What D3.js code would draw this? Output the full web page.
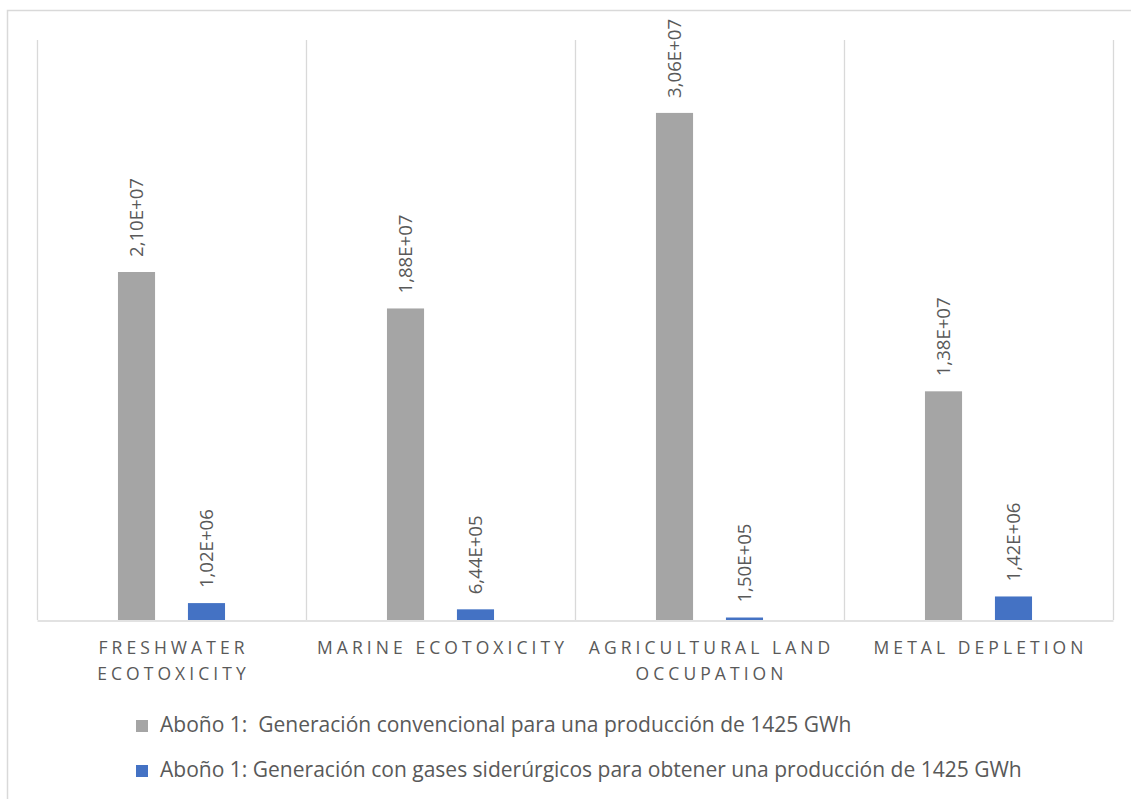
<!DOCTYPE html>
<html>
<head>
<meta charset="utf-8">
<script src="https://cdn.jsdelivr.net/npm/d3@7"></script>
<style>
  html, body { margin: 0; padding: 0; background: #fff; }
  svg { display: block; }
</style>
</head>
<body>
<svg id="chart" width="1131" height="799"></svg>
<script>
// ---- data ----
const categories = ["FRESHWATER ECOTOXICITY", "MARINE ECOTOXICITY", "AGRICULTURAL LAND OCCUPATION", "METAL DEPLETION"];
const seriesNames = [
  "Aboño 1:  Generación convencional para una producción de 1425 GWh",
  "Aboño 1: Generación con gases siderúrgicos para obtener una producción de 1425 GWh"
];
const conventional = [2.10e7, 1.88e7, 3.06e7, 1.38e7];
const siderurgicos = [1.02e6, 6.44e5, 1.50e5, 1.42e6];
const valueLabelsConventional = ["2,10E+07", "1,88E+07", "3,06E+07", "1,38E+07"];
const valueLabelsSiderurgicos = ["1,02E+06", "6,44E+05", "1,50E+05", "1,42E+06"];
const yDomain = [0, 3.5e7];

// ---- styles ----
const colors = ["#A5A5A5", "#4472C4"];
const textColor = "#595959";
const gridColor = "#D9D9D9";
const font = "'Open Sans', 'Noto Sans', sans-serif";

const svg = d3.select("#chart");
const plot = { left: 37, right: 1113, top: 40, bottom: 620 };

// text measuring helper
const measurer = svg.append("text").attr("font-family", font).attr("visibility", "hidden")
  .attr("xml:space", "preserve").style("white-space", "pre");
function measure(t, size, spacing) {
  measurer.attr("font-size", size).attr("letter-spacing", spacing || 0).text(t);
  return measurer.node().getComputedTextLength();
}

// outer chart border (clipped on right / bottom like the reference)
svg.append("rect")
  .attr("x", 7.5).attr("y", 10.5)
  .attr("width", 1300).attr("height", 1000)
  .attr("fill", "none").attr("stroke", gridColor).attr("stroke-width", 1.5);

const x = d3.scaleBand().domain(categories).range([plot.left, plot.right]).padding(0);
const bw = x.bandwidth();
const xs = d3.scaleBand().domain([0, 1]).range([bw * 0.301, bw * 0.699]).paddingInner(0.47).paddingOuter(0);
const y = d3.scaleLinear().domain(yDomain).range([plot.bottom, plot.top]);

// vertical gridlines at category boundaries
const bounds = categories.map(c => x(c)).concat([x(categories[categories.length - 1]) + bw]);
svg.append("g").selectAll("line").data(bounds).join("line")
  .attr("x1", d => d + 0.5).attr("x2", d => d + 0.5)
  .attr("y1", y(yDomain[1])).attr("y2", y(0))
  .attr("stroke", gridColor).attr("stroke-width", 1.3);

// baseline axis
const xAxis = d3.axisBottom(x).tickSize(0).tickFormat("");
const axG = svg.append("g").attr("transform", `translate(0,${y(0) + 0.5})`).call(xAxis);
axG.select(".domain").attr("stroke", gridColor).attr("stroke-width", 1.5);

// data label font size: "3,06E+07" about 80px long
const dlSize = 17 * 79 / measure("3,06E+07", 17, 0);

// bars
const series = [
  { vals: conventional, labels: valueLabelsConventional },
  { vals: siderurgicos, labels: valueLabelsSiderurgicos }
];
series.forEach((s, si) => {
  const g = svg.append("g");
  g.selectAll("rect").data(categories).join("rect")
    .attr("x", (c) => x(c) + xs(si))
    .attr("width", xs.bandwidth())
    .attr("y", (c, i) => y(s.vals[i]))
    .attr("height", (c, i) => y(0) - y(s.vals[i]))
    .attr("fill", colors[si]);
  g.selectAll("text").data(categories).join("text")
    .attr("transform", (c, i) => {
      const cx = x(c) + xs(si) + xs.bandwidth() / 2;
      const ty = y(s.vals[i]) - 15;
      return `translate(${cx},${ty}) rotate(-90)`;
    })
    .attr("dy", "0.36em")
    .attr("text-anchor", "start")
    .attr("font-family", font)
    .attr("font-size", dlSize)
    .attr("fill", textColor)
    .text((c, i) => s.labels[i]);
});

// category labels with wrapping; letter-spacing fit so "MARINE ECOTOXICITY" ~247px
const catFont = 17.5;
const sample = categories[1];
const natural = measure(sample, catFont, 0);
const ls = (247 - natural) / (sample.length - 1);
const maxW = bw - 12;
categories.forEach(c => {
  const words = c.split(" ");
  const lines = [];
  let cur = "";
  words.forEach(w => {
    const test = cur ? cur + " " + w : w;
    if (cur && measure(test, catFont, ls) > maxW) { lines.push(cur); cur = w; } else { cur = test; }
  });
  if (cur) lines.push(cur);
  const t = svg.append("text")
    .attr("font-family", font).attr("font-size", catFont)
    .attr("letter-spacing", ls).attr("fill", textColor)
    .attr("text-anchor", "middle");
  lines.forEach((ln, li) => {
    t.append("tspan").attr("x", x(c) + bw / 2 + ls / 2).attr("y", 654 + li * 26).text(ln);
  });
});

// legend: first entry text about 692px wide
const legSize = 18 * 692 / measure(seriesNames[0], 18, 0);
const legend = svg.append("g");
seriesNames.forEach((name, i) => {
  const ly = 732 + i * 45;
  legend.append("rect").attr("x", 136).attr("y", ly - 12).attr("width", 12).attr("height", 12)
    .attr("fill", colors[i]);
  legend.append("text").attr("x", 160).attr("y", ly)
    .attr("font-family", font).attr("font-size", legSize)
    .attr("fill", textColor).attr("xml:space", "preserve")
    .style("white-space", "pre")
    .text(name);
});
measurer.remove();
</script>
</body>
</html>
